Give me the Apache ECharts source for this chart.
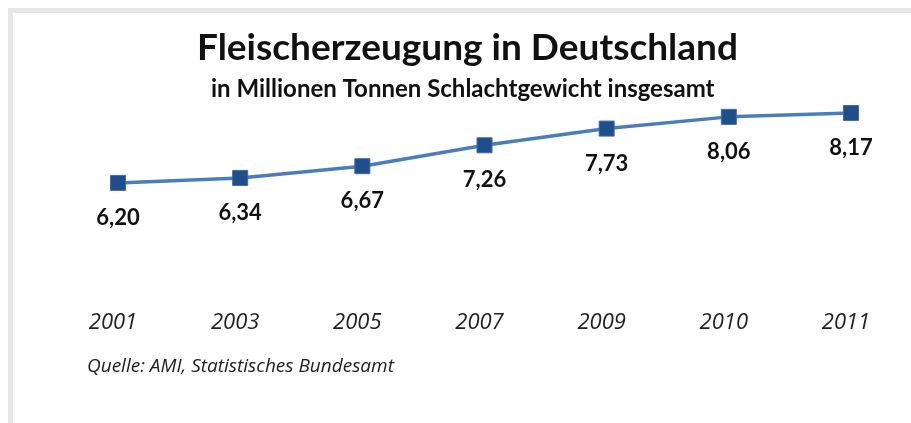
<!DOCTYPE html>
<html>
<head>
<meta charset="utf-8">
<script src="https://cdn.jsdelivr.net/npm/echarts@6/dist/echarts.min.js"></script>
<style>
  html, body { margin: 0; padding: 0; background: #fff; }
  #chart { width: 911px; height: 423px; }
</style>
</head>
<body>
<div id="chart"></div>
<script>
// Daten
const years = ['2001', '2003', '2005', '2007', '2009', '2010', '2011'];
const tonnen = [6.20, 6.34, 6.67, 7.26, 7.73, 8.06, 8.17];

const myChart = echarts.init(document.getElementById('chart'));

const option = {
  backgroundColor: '#fff',
  animation: false,
  title: [
    {
      text: 'Fleischerzeugung in Deutschland',
      left: 192,
      top: 25,
      textStyle: { fontFamily: 'Lato', fontWeight: 'bold', fontSize: 37, color: '#111' }
    },
    {
      text: 'in Millionen Tonnen Schlachtgewicht insgesamt',
      left: 206,
      top: 72,
      textStyle: { fontFamily: 'Lato', fontWeight: 'bold', fontSize: 24, color: '#111' }
    },
    {
      text: 'Quelle: AMI, Statistisches Bundesamt',
      left: 82,
      top: 352,
      textStyle: { fontFamily: 'Open Sans', fontStyle: 'italic', fontWeight: 'normal', fontSize: 19, color: '#222' }
    }
  ],
  // grauer Rahmen oben/links
  graphic: [
    { type: 'rect', shape: { x: 8, y: 8, width: 903, height: 5 }, style: { fill: '#e6e6e6' } },
    { type: 'rect', shape: { x: 8, y: 8, width: 5, height: 415 }, style: { fill: '#e6e6e6' } }
  ],
  grid: {
    left: 118,
    right: 60,
    top: 83.5,
    height: 177.5
  },
  xAxis: {
    type: 'category',
    data: years,
    boundaryGap: false,
    axisLine: { show: false },
    axisTick: { show: false },
    axisLabel: {
      margin: 51,
      padding: [0, 10, 0, 0],
      fontFamily: 'Open Sans',
      fontStyle: 'italic',
      fontSize: 22,
      color: '#222'
    }
  },
  yAxis: {
    type: 'value',
    min: 4,
    max: 9,
    show: false,
    splitLine: { show: false }
  },
  series: [
    {
      type: 'line',
      data: tonnen,
      symbol: 'rect',
      symbolSize: 15,
      lineStyle: { color: '#4A7EBB', width: 3.5 },
      itemStyle: { color: '#1F4E8A', borderColor: '#3e6aa3', borderWidth: 1 },
      label: {
        show: true,
        position: 'bottom',
        distance: 16,
        fontFamily: 'Lato',
        fontWeight: 'bold',
        fontSize: 22,
        color: '#111',
        formatter: p => p.value.toFixed(2).replace('.', ',')
      }
    }
  ]
};

myChart.setOption(option);
</script>
</body>
</html>
